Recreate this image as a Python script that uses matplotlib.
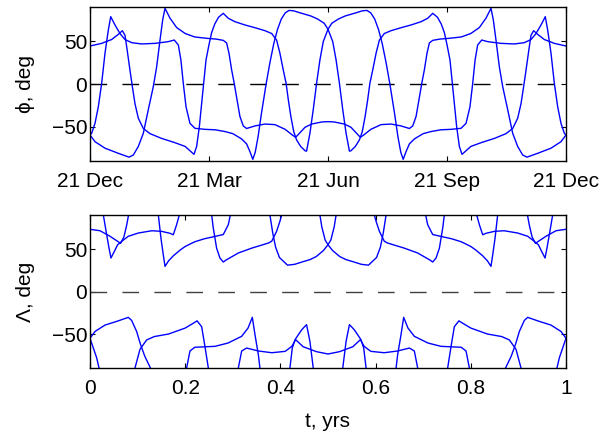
import matplotlib
matplotlib.use('Agg')
import matplotlib.pyplot as plt

# ---- top panel: phi (deg) vs fraction of year, three branches ----
phi_a_t = [0, 0.0245, 0.0455, 0.0595, 0.068, 0.0735, 0.078, 0.084, 0.089, 0.0945,
           0.1015, 0.112, 0.126, 0.15, 0.1785, 0.2, 0.212, 0.2185, 0.224, 0.2297,
           0.2346, 0.2388, 0.2437, 0.25, 0.2555, 0.262, 0.27, 0.28, 0.2906, 0.3046,
           0.3256, 0.3466, 0.3676, 0.3817, 0.392, 0.399, 0.406, 0.412, 0.4167, 0.422,
           0.428, 0.434, 0.4426, 0.4517, 0.455, 0.462, 0.469, 0.476, 0.483, 0.49, 0.5,
           0.508, 0.522, 0.536, 0.555, 0.572, 0.582, 0.59, 0.598, 0.606, 0.614,
           0.622, 0.63, 0.64, 0.647, 0.653, 0.658, 0.664, 0.671, 0.682, 0.70,
           0.717, 0.7374, 0.7584, 0.7794, 0.79, 0.7983, 0.804, 0.809, 0.8144, 0.823,
           0.8355, 0.8634, 0.8914, 0.9125, 0.9265, 0.937, 0.9475, 0.9565, 0.9615, 0.9685,
           0.9755, 0.9825, 0.9895, 0.9965, 1]
phi_a = [44.4, 47.5, 52, 58, 62.3, 57, 40, 16, -3, -23,
         -40, -52, -58, -63.5, -68.6, -73, -79, -82.2, -73, -50,
         -22.6, 0.8, 28, 46, 60, 70, 78, 82.6, 76.8, 72.8,
         69, 65.8, 62.3, 59, 51.4, 36, 16.4, 0.8, -18.7, -38,
         -55.7, -65.4, -73, -78, -78.5, -57.6, -30, 0.8, 28, 49.5, 64,
         71, 76, 79.5, 82.6, 85.5, 86, 83, 76, 64, 47,
         25, 0, -35, -62, -80, -88, -79, -70, -64, -58,
         -55.5, -53.5, -53, -51.8, -46, -26.5, 0.8, 28, 45.6, 51.4,
         49.5, 47.5, 46.8, 48.3, 52, 59, 69, 78.7, 63, 36,
         0.8, -26.5, -46, -57.6, -59.6]

phi_b_t = [0, 0.0105, 0.0315, 0.0595, 0.082, 0.091, 0.1015, 0.112, 0.1225, 0.133,
           0.14, 0.147, 0.1527, 0.1576, 0.168, 0.182, 0.2, 0.22, 0.245, 0.265,
           0.28, 0.287, 0.292, 0.2976, 0.303, 0.309, 0.315, 0.322, 0.329, 0.3466,
           0.3676, 0.3887, 0.41, 0.425, 0.432, 0.441, 0.4517, 0.4657, 0.4867, 0.5,
           0.5133, 0.5343, 0.5483, 0.559, 0.568, 0.575, 0.59, 0.6113, 0.6324, 0.6534,
           0.671, 0.678, 0.685, 0.691, 0.697, 0.7024, 0.708, 0.713, 0.72, 0.735,
           0.755, 0.78, 0.8, 0.818, 0.832, 0.8424, 0.8473, 0.853, 0.86, 0.867,
           0.8775, 0.888, 0.8985, 0.909, 0.918, 0.9405, 0.9685, 0.9895, 1]
phi_b = [-59.6, -67.4, -75, -81, -85.5, -83, -73, -57.6, -30, -3,
         20, 51, 75, 88.5, 77, 66, 59, 55, 53.4, 52.5,
         51, 48, 36, 16.4, 0.8, -18.7, -38, -49, -52, -49,
         -46.8, -47.5, -53, -59.6, -62.3, -57, -50.6, -46.8, -44.4, -44,
         -44.4, -46.8, -50.6, -57, -62.3, -59.6, -53, -47.5, -46.8, -49,
         -52, -49, -38, -18.7, 0.8, 16.4, 36, 48, 51, 52.5,
         53.4, 55, 59, 66, 77, 88.5, 75, 51, 20, -3,
         -30, -57.6, -73, -83, -85.5, -81, -75, -67.4, -59.6]

phi_c_t = [0, 0.0035, 0.0105, 0.0175, 0.0245, 0.0315, 0.0385, 0.0435, 0.0525, 0.063,
           0.0735, 0.0875, 0.1086, 0.1366, 0.1645, 0.177, 0.1856, 0.191, 0.196, 0.2017,
           0.21, 0.2206, 0.2416, 0.2626, 0.283, 0.30, 0.318, 0.329, 0.336, 0.342,
           0.347, 0.353, 0.36, 0.37, 0.378, 0.386, 0.394, 0.402, 0.41, 0.418,
           0.428, 0.445, 0.464, 0.478, 0.492, 0.5,
           0.51, 0.517, 0.524, 0.531, 0.538, 0.545, 0.5483, 0.5574, 0.566, 0.572,
           0.578, 0.5833, 0.588, 0.594, 0.601, 0.608, 0.6183, 0.6324, 0.6534, 0.6744,
           0.6954, 0.7094, 0.72, 0.73, 0.738, 0.7445, 0.75, 0.7563, 0.7612, 0.7654,
           0.7703, 0.776, 0.7815, 0.788, 0.8, 0.8215, 0.85, 0.874, 0.888, 0.8985,
           0.9055, 0.911, 0.916, 0.922, 0.9265, 0.932, 0.9405, 0.9545, 0.9755, 1]
phi_c = [-59.6, -57.6, -46, -26.5, 0.8, 36, 63, 78.7, 69, 59,
         52, 48.3, 46.8, 47.5, 49.5, 51.4, 45.6, 28, 0.8, -26.5,
         -46, -51.8, -53, -53.5, -55.5, -58, -64, -70, -79, -88,
         -80, -62, -35, 0, 25, 47, 64, 76, 83, 86,
         85.5, 82.6, 79.5, 76, 71, 64,
         49.5, 28, 0.8, -30, -57.6, -78.5, -78, -73, -65.4, -55.7,
         -38, -18.7, 0.8, 16.4, 36, 51.4, 59, 62.3, 65.8, 69,
         72.8, 76.8, 82.6, 78, 70, 60, 46, 28, 0.8, -22.6,
         -50, -73, -82.2, -79, -73, -68.6, -63.5, -58, -52, -40,
         -23, -3, 16, 40, 57, 62.3, 58, 52, 47.5, 44.4]

# ---- bottom panel: Lambda (deg); values of +/-100 sit outside the view ----
lam_up1_t = [0, 0.021, 0.042, 0.056, 0.0644, 0.0714, 0.077, 0.081, 0.085,
             0.139, 0.1436, 0.149, 0.154, 0.1576, 0.165, 0.175, 0.19, 0.2, 0.22, 0.24, 0.26, 0.28, 0.2906, 0.2948, 0.298,
             0.374, 0.378, 0.384, 0.39, 0.398, 0.415, 0.43, 0.447, 0.462, 0.475, 0.49, 0.5, 0.506, 0.513, 0.517, 0.52,
             0.594, 0.5973, 0.601, 0.608, 0.6184, 0.6254, 0.6604, 0.6884, 0.713, 0.72, 0.727, 0.734, 0.741, 0.7444, 0.748,
             0.81, 0.8124, 0.818, 0.825, 0.832, 0.85, 0.87, 0.8985, 0.9195, 0.9334, 0.942, 0.949, 0.956, 0.96, 0.965, 0.972, 0.976]
lam_up1 = [73.2, 71.5, 65, 59.8, 56.7, 64.5, 78, 90, 100,
           100, 90, 63, 43, 29.6, 36, 42, 49, 53, 58.5, 62, 64.5, 67, 78.6, 90, 100,
           100, 90, 68.5, 52, 40, 31, 32, 35, 37.5, 41, 48, 55, 60.6, 76, 90, 100,
           100, 90, 82.6, 70.8, 59, 57, 51, 45.3, 37.4, 34.7, 39.4, 51, 74.7, 90, 100,
           100, 90, 78.6, 66.8, 68.5, 70.8, 71.5, 68.8, 65, 59, 55, 47, 39.4, 51, 67, 90, 100]

lam_up2_t = [0.024, 0.028, 0.035, 0.04, 0.044, 0.051, 0.058, 0.0666, 0.0805, 0.1015, 0.13, 0.15, 0.168, 0.175, 0.182, 0.1876, 0.19,
             0.252, 0.2556, 0.259, 0.266, 0.273, 0.28, 0.287, 0.3116, 0.3396, 0.3746, 0.3816, 0.392, 0.399, 0.4027, 0.406,
             0.48, 0.483, 0.487, 0.494, 0.5, 0.51, 0.525, 0.538, 0.553, 0.57, 0.585, 0.602, 0.61, 0.616, 0.622, 0.626,
             0.702, 0.7052, 0.7094, 0.72, 0.74, 0.76, 0.78, 0.8, 0.81, 0.825, 0.835, 0.8424, 0.846, 0.851, 0.8564, 0.861,
             0.915, 0.919, 0.923, 0.9286, 0.9356, 0.944, 0.958, 0.979, 1]
lam_up2 = [100, 90, 67, 51, 39.4, 47, 55, 59, 65, 68.8, 71.5, 70.8, 68.5, 66.8, 78.6, 90, 100,
           100, 90, 74.7, 51, 39.4, 34.7, 37.4, 45.3, 51, 57, 59, 70.8, 82.6, 90, 100,
           100, 90, 76, 60.6, 55, 48, 41, 37.5, 35, 32, 31, 40, 52, 68.5, 90, 100,
           100, 90, 78.6, 67, 64.5, 62, 58.5, 53, 49, 42, 36, 29.6, 43, 63, 90, 100,
           100, 90, 78, 64.5, 56.7, 59.8, 65, 71.5, 73.2]

lam_lo1_t = [0, 0.0105, 0.0315, 0.0595, 0.0805, 0.0875, 0.098, 0.106, 0.115, 0.127, 0.131,
             0.2, 0.203, 0.21, 0.22, 0.2626, 0.29, 0.3186, 0.332, 0.341, 0.3466, 0.3536, 0.357, 0.36,
             0.417, 0.42, 0.425, 0.4307, 0.4447, 0.455, 0.462, 0.469, 0.472,
             0.528, 0.531, 0.538, 0.545, 0.5553, 0.5693, 0.575, 0.58, 0.583,
             0.64, 0.643, 0.6464, 0.6534, 0.659, 0.668, 0.6814, 0.71, 0.7374, 0.78, 0.79, 0.797, 0.8,
             0.869, 0.873, 0.885, 0.894, 0.902, 0.9125, 0.9195, 0.9405, 0.9685, 0.9895, 1]
lam_lo1 = [-55, -47, -39.5, -34.5, -30.4, -34, -47, -62, -76, -90, -100,
           -100, -90, -70, -65.6, -64.5, -60.6, -52.7, -43, -30.4, -50.8, -74, -90, -100,
           -100, -90, -66.5, -56.7, -45, -39, -58.6, -90, -100,
           -100, -90, -58.6, -39, -45, -56.7, -66.5, -90, -100,
           -100, -90, -74, -50.8, -30.4, -43, -52.7, -60.6, -64.5, -65.6, -70, -90, -100,
           -100, -90, -76, -62, -47, -34, -30.4, -34.5, -39.5, -47, -55]

lam_lo2_t = [0, 0.007, 0.014, 0.019, 0.022,
             0.091, 0.0945, 0.105, 0.119, 0.135, 0.165, 0.185, 0.2, 0.215, 0.225, 0.2346, 0.2416, 0.2486, 0.252,
             0.308, 0.3116, 0.3186, 0.329, 0.354, 0.382, 0.41, 0.424, 0.432, 0.448, 0.476, 0.5,
             0.524, 0.552, 0.568, 0.576, 0.59, 0.618, 0.646, 0.671, 0.6814, 0.6884, 0.692,
             0.748, 0.7514, 0.7584, 0.7654, 0.775, 0.785, 0.8, 0.815, 0.835, 0.865, 0.881, 0.895, 0.9055, 0.909,
             0.978, 0.981, 0.986, 0.993, 1]
lam_lo2 = [-55, -66.5, -78, -90, -100,
           -100, -90, -68, -57, -53, -50, -46, -43, -38, -34.5, -41.4, -65, -90, -100,
           -100, -90, -70, -66.5, -70, -72, -70.4, -64.5, -56.7, -65, -70.8, -73.5,
           -70.8, -65, -56.7, -64.5, -70.4, -72, -70, -66.5, -70, -90, -100,
           -100, -90, -65, -41.4, -34.5, -38, -43, -46, -50, -53, -57, -68, -90, -100,
           -100, -90, -78, -66.5, -55]

top_ticks = [0, 0.25, 0.5, 0.75, 1]
top_labels = ['21 Dec', '21 Mar', '21 Jun', '21 Sep', '21 Dec']
bottom_ticks = [0, 0.2, 0.4, 0.6, 0.8, 1]
bottom_labels = ['0', '0.2', '0.4', '0.6', '0.8', '1']
y_ticks = [-50, 0, 50]

plt.rcParams['font.family'] = ['Liberation Sans', 'DejaVu Sans']
plt.rcParams['font.size'] = 15
plt.rcParams['axes.linewidth'] = 1.0
plt.rcParams['xtick.direction'] = 'in'
plt.rcParams['ytick.direction'] = 'in'
plt.rcParams['xtick.top'] = True
plt.rcParams['ytick.right'] = True
plt.rcParams['xtick.major.size'] = 3.5
plt.rcParams['ytick.major.size'] = 3.5

fig = plt.figure(figsize=(6.02, 4.32), dpi=100)
ax1 = fig.add_axes([0.1495, 0.6273, 0.7907, 0.3565])
ax2 = fig.add_axes([0.1495, 0.1481, 0.7907, 0.3542])

ax1.axhline(0, color='k', lw=1.0, dashes=(12, 11))
for t, v in [(phi_a_t, phi_a), (phi_b_t, phi_b), (phi_c_t, phi_c)]:
    ax1.plot(t, v, color='#0000ff', lw=1.0)

ax2.axhline(0, color='#404040', lw=1.0, dashes=(12, 11))
for t, v in [(lam_up1_t, lam_up1), (lam_up2_t, lam_up2),
             (lam_lo1_t, lam_lo1), (lam_lo2_t, lam_lo2)]:
    ax2.plot(t, v, color='#0000ff', lw=1.0)

for ax in (ax1, ax2):
    ax.set_xlim(0, 1)
    ax.set_ylim(-90, 90)
    ax.set_yticks(y_ticks)
    ax.tick_params(axis='x', pad=8)
    ax.tick_params(axis='y', pad=2)

ax1.set_xticks(top_ticks)
ax1.set_xticklabels(top_labels)
ax2.set_xticks(bottom_ticks)
ax2.set_xticklabels(bottom_labels)

ax1.set_ylabel('ϕ, deg')
ax2.set_ylabel('Λ, deg')
ax1.yaxis.set_label_coords(-0.115, 0.5)
ax2.yaxis.set_label_coords(-0.115, 0.5)
ax2.set_xlabel('t, yrs', labelpad=10)

fig.savefig('out.png', dpi=100)
